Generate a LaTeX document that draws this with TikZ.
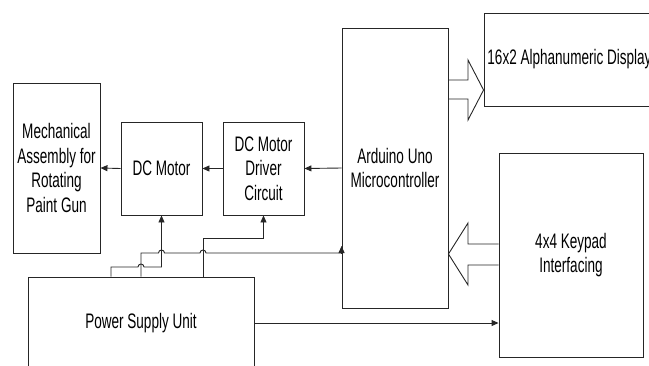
\documentclass[tikz,border=0pt]{standalone}
\usepackage{fontspec}
\setmainfont[FakeStretch=0.645]{Liberation Sans}
\usetikzlibrary{arrows.meta}
\begin{document}
\begin{tikzpicture}[x=1pt,y=-1pt,
  blk/.style={draw=black!85,line width=0.9pt,rectangle,inner sep=0pt,align=center,
    font=\fontsize{21}{24.5}\selectfont},
  wire/.style={draw=black!85,line width=0.9pt},
  arr/.style={wire,-{Triangle[length=7pt,width=6pt]}},
  hollow/.style={draw=black!85,line width=0.9pt,line join=miter}]
\useasboundingbox (0,0) rectangle (649,365);
\clip (0,0) rectangle (649,365);
% blocks
\node[blk,minimum width=87pt,minimum height=170pt] (mech) at (56.5,168) {Mechanical\\Assembly for\\Rotating\\Paint Gun};
\node[blk,minimum width=81pt,minimum height=93pt] (dcm) at (161.5,168.5) {DC Motor};
\node[blk,minimum width=81pt,minimum height=93pt] (drv) at (263.5,168.5) {DC Motor\\Driver\\Circuit};
\node[blk,minimum width=106pt,minimum height=280pt] (ard) at (395,168) {Arduino Uno\\Microcontroller};
\node[blk,minimum width=171pt,minimum height=93pt] (disp) at (569.5,59.5) {16x2 Alphanumeric Display};
\node[blk,minimum width=144pt,minimum height=204pt] (kp) at (571,255) {4x4 Keypad\\Interfacing};
\node[blk,minimum width=226pt,minimum height=92pt] (psu) at (141,323) {Power Supply Unit};
% signal arrows
\draw[arr] (ard.west) -- (drv.east);
\draw[arr] (drv.west) -- (dcm.east);
\draw[arr] (dcm.west) -- (mech.east);
\draw[arr] (psu.east) -- (psu.east -| kp.west);
% hollow bus arrows
\draw[hollow] (ard.east |- 0,80) -- (468,80) -- (468,60) -- (disp.west |- 0,90) -- (468,120) -- (468,99) -- (ard.east |- 0,99);
\draw[hollow] (kp.west |- 0,244) -- (468,244) -- (468,223) -- (ard.east |- 0,254) -- (468,285) -- (468,265) -- (kp.west |- 0,265);
% power wires
\coordinate (pa) at (psu.north -| 111,0);
\coordinate (pb) at (psu.north -| 141,0);
\coordinate (pc) at (psu.north -| 203,0);
\draw[arr] (pa) -- (111,267) -- (138,267) arc[start angle=180,end angle=0,radius=3pt] -- (dcm.south |- 0,267) -- (dcm.south);
\draw[wire] (pb) -- (141,253) -- (158.5,253) arc[start angle=180,end angle=0,radius=3pt] -- (200,253) arc[start angle=180,end angle=0,radius=3pt] -- (ard.west |- 0,253);
\draw[arr] (ard.west |- 0,253) -- (ard.west |- 0,246);
\draw[arr] (pc) -- (203,238) -- (drv.south |- 0,238) -- (drv.south);
\end{tikzpicture}
\end{document}
